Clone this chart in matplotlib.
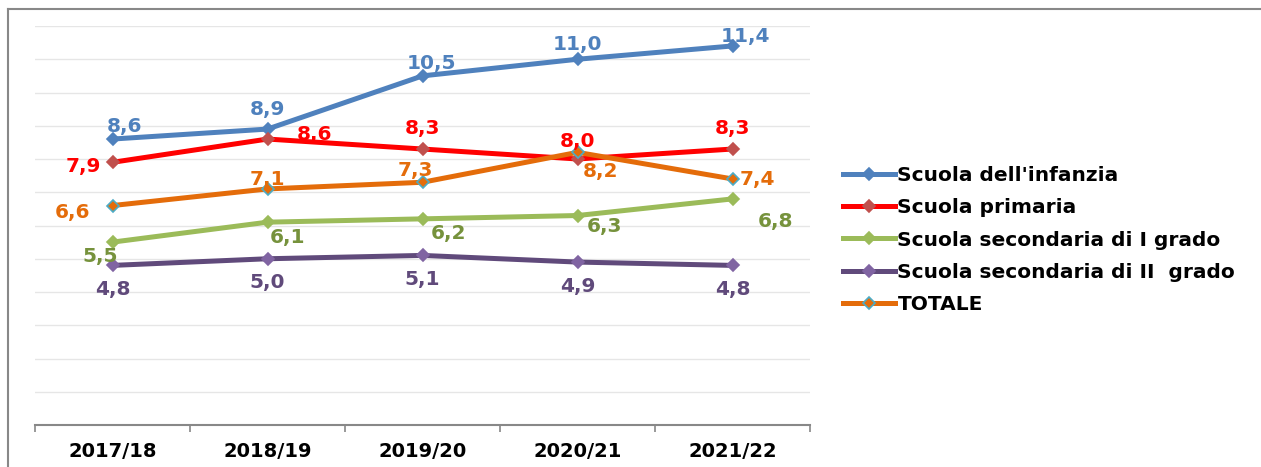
import matplotlib.pyplot as plt
from matplotlib.lines import Line2D
import numpy as np

years = ['2017/18', '2018/19', '2019/20', '2020/21', '2021/22']

infanzia = [8.6, 8.9, 10.5, 11.0, 11.4]
primaria = [7.9, 8.6, 8.3, 8.0, 8.3]
secondaria_1 = [5.5, 6.1, 6.2, 6.3, 6.8]
secondaria_2 = [4.8, 5.0, 5.1, 4.9, 4.8]
totale = [6.6, 7.1, 7.3, 8.2, 7.4]

names = ["Scuola dell'infanzia", 'Scuola primaria', 'Scuola secondaria di I grado',
         'Scuola secondaria di II  grado', 'TOTALE']

# line colour, marker face, marker edge, label colour
styles = [
    ('#4F81BD', '#4F81BD', '#4F81BD', '#4F81BD'),
    ('#FF0000', '#C0504D', '#C0504D', '#FF0000'),
    ('#9BBB59', '#9BBB59', '#9BBB59', '#76923C'),
    ('#604A7B', '#8064A2', '#8064A2', '#604A7B'),
    ('#E46C0A', '#E46C0A', '#4BACC6', '#E46C0A'),
]

# label offsets in pixels (dx, dy), one per point
offsets = [
    [(12, 13), (0, 20), (9, 12), (0, 15), (13, 9)],
    [(-29, -4), (47, 5), (0, 21), (0, 18), (0, 21)],
    [(-12, -14), (20, -15), (26, -15), (27, -11), (43, -23)],
    [(0, -24), (0, -24), (0, -24), (0, -24), (0, -24)],
    [(-40, -7), (0, 9), (-7, 12), (23, -19), (25, -1)],
]

series = [infanzia, primaria, secondaria_1, secondaria_2, totale]

fig = plt.figure(figsize=(12.61, 4.67), dpi=100)
ax = fig.add_axes([35 / 1261, 42 / 467, 775 / 1261, 399 / 467])

x = np.arange(len(years))
for vals, name, st, offs in zip(series, names, styles, offsets):
    lc, mf, me, tc = st
    ax.plot(x, vals, color=lc, lw=3.6, marker='D', ms=6, mfc=mf, mec=me,
            mew=1.2, label=name, solid_joinstyle='miter')
    for xi, v, (dx, dy) in zip(x, vals, offs):
        ax.annotate(f'{v:.1f}'.replace('.', ','), (xi, v), xytext=(dx, dy),
                    textcoords='offset pixels', ha='center', va='center',
                    fontsize=14.5, fontweight='bold', color=tc)

ax.set_xlim(-0.5, 4.5)
ax.set_ylim(0, 12)
ax.set_yticks(np.arange(1, 13))
ax.yaxis.grid(True, color='#e6e6e6', lw=1)
ax.set_axisbelow(True)
ax.tick_params(axis='y', left=False, labelleft=False)
ax.set_xticks(x)
ax.set_xticklabels(years, fontsize=14, fontweight='bold')
ax.set_xticks(np.arange(-0.5, 5, 1), minor=True)
ax.tick_params(axis='x', which='major', length=0, pad=12)
ax.tick_params(axis='x', which='minor', length=5, color='#888888', width=1.2)
for s in ['top', 'right', 'left']:
    ax.spines[s].set_visible(False)
ax.spines['bottom'].set_color('#888888')
ax.spines['bottom'].set_linewidth(1.5)

ax.legend(loc='center left', bbox_to_anchor=(843 / 1261, 1 - 240 / 467),
          bbox_transform=fig.transFigure, frameon=False, borderpad=0,
          borderaxespad=0, handlelength=2.6, handletextpad=0.1,
          labelspacing=0.65, prop={'size': 14.5, 'weight': 'bold'})

fig.add_artist(Line2D([8 / 1261, 1], [1 - 9 / 467, 1 - 9 / 467],
                      transform=fig.transFigure, color='#888888', lw=1.5))
fig.add_artist(Line2D([8 / 1261, 8 / 1261], [0, 1 - 9 / 467],
                      transform=fig.transFigure, color='#888888', lw=1.5))

fig.savefig('out.png', dpi=100)
